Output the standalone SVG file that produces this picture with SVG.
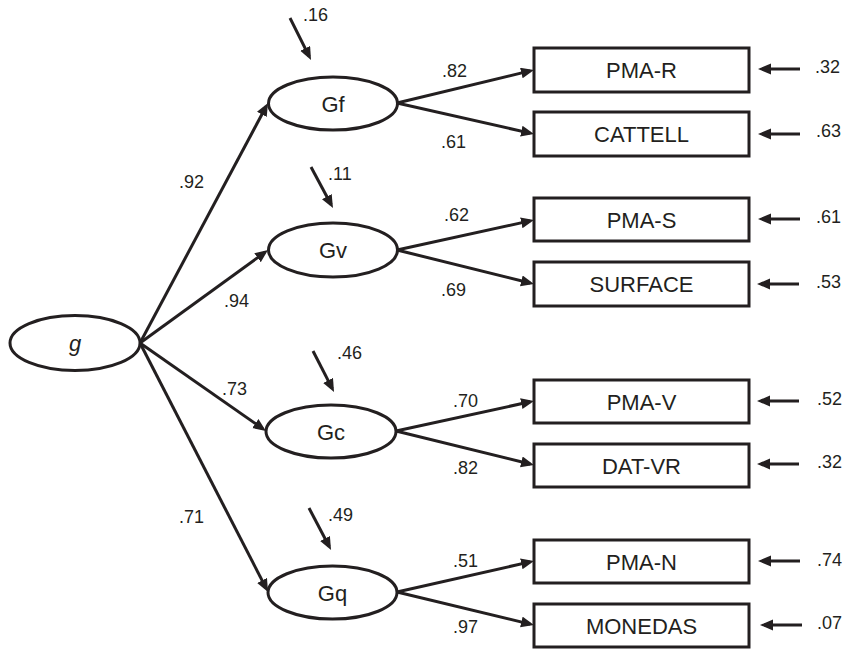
<svg xmlns="http://www.w3.org/2000/svg" width="846" height="649" viewBox="0 0 846 649">
  <style>
    .shape { fill: #ffffff; stroke: #231f20; stroke-width: 3; }
    .edge { fill: none; stroke: #231f20; stroke-width: 3; marker-end: url(#head); }
    .name { font-family: "Liberation Sans", Arial, sans-serif; font-size: 22px; fill: #231f20; text-anchor: middle; }
    .coef { font-family: "Liberation Sans", Arial, sans-serif; font-size: 18px; fill: #231f20; }
  </style>
  <defs>
    <marker id="head" markerUnits="userSpaceOnUse" markerWidth="15" markerHeight="13" refX="9" refY="5.5" orient="auto">
      <path d="M0,0 L13,5.5 L0,11 Z" fill="#231f20"/>
    </marker>
  </defs>
  <rect width="846" height="649" fill="#ffffff"/>

  <!-- connectors -->
  <g id="connectors">
    <!-- general factor to group factors -->
    <line class="edge" x1="140" y1="343" x2="266.1" y2="106.5"/>
    <line class="edge" x1="140" y1="343" x2="264.8" y2="252.4"/>
    <line class="edge" x1="140" y1="343" x2="262.7" y2="428.7"/>
    <line class="edge" x1="140" y1="343" x2="266.2" y2="588.4"/>
    <!-- group factors to tests -->
    <line class="edge" x1="397" y1="103" x2="530.1" y2="70.9"/>
    <line class="edge" x1="397" y1="103" x2="530.1" y2="133.1"/>
    <line class="edge" x1="397" y1="250" x2="530.1" y2="220.9"/>
    <line class="edge" x1="397" y1="250" x2="530.1" y2="283"/>
    <line class="edge" x1="396" y1="431" x2="530.1" y2="401.8"/>
    <line class="edge" x1="396" y1="431" x2="530.1" y2="464"/>
    <line class="edge" x1="397" y1="592" x2="530.1" y2="561.9"/>
    <line class="edge" x1="397" y1="592" x2="530.1" y2="624.1"/>
    <!-- disturbances on group factors -->
    <line class="edge" x1="290" y1="18" x2="309.2" y2="56.4"/>
    <line class="edge" x1="311" y1="167" x2="331.1" y2="204.5"/>
    <line class="edge" x1="313" y1="351" x2="332.2" y2="388.4"/>
    <line class="edge" x1="309" y1="508" x2="329.2" y2="546.5"/>
    <!-- test error terms -->
    <line class="edge" x1="800" y1="69" x2="762" y2="69"/>
    <line class="edge" x1="800" y1="134" x2="762" y2="134"/>
    <line class="edge" x1="800" y1="219" x2="762" y2="219"/>
    <line class="edge" x1="799" y1="284" x2="761" y2="284"/>
    <line class="edge" x1="799" y1="401" x2="761" y2="401"/>
    <line class="edge" x1="799" y1="464" x2="761" y2="464"/>
    <line class="edge" x1="800" y1="561" x2="762" y2="561"/>
    <line class="edge" x1="802" y1="625" x2="764" y2="625"/>
  </g>

  <!-- latent factors -->
  <g id="g">
    <ellipse class="shape" cx="75" cy="343" rx="65" ry="27.5"/>
    <text class="name" x="75" y="351" font-style="italic">g</text>
  </g>
  <g id="Gf">
    <ellipse class="shape" cx="333" cy="103.5" rx="64.5" ry="26.5"/>
    <text class="name" x="333" y="111.5">Gf</text>
  </g>
  <g id="Gv">
    <ellipse class="shape" cx="333" cy="250" rx="64.5" ry="27"/>
    <text class="name" x="333" y="258">Gv</text>
  </g>
  <g id="Gc">
    <ellipse class="shape" cx="331" cy="431.5" rx="65" ry="26.5"/>
    <text class="name" x="331" y="439.5">Gc</text>
  </g>
  <g id="Gq">
    <ellipse class="shape" cx="332.5" cy="592.5" rx="64.5" ry="26.5"/>
    <text class="name" x="332.5" y="600.5">Gq</text>
  </g>

  <!-- observed tests -->
  <g id="PMA-R">
    <rect class="shape" x="534" y="48" width="215" height="44"/>
    <text class="name" x="641.5" y="78">PMA-R</text>
  </g>
  <g id="CATTELL">
    <rect class="shape" x="534" y="112" width="215" height="44"/>
    <text class="name" x="641.5" y="142">CATTELL</text>
  </g>
  <g id="PMA-S">
    <rect class="shape" x="534" y="198" width="215" height="43"/>
    <text class="name" x="641.5" y="227.5">PMA-S</text>
  </g>
  <g id="SURFACE">
    <rect class="shape" x="534" y="262" width="215" height="44"/>
    <text class="name" x="641.5" y="292">SURFACE</text>
  </g>
  <g id="PMA-V">
    <rect class="shape" x="534" y="380" width="215" height="43"/>
    <text class="name" x="641.5" y="409.5">PMA-V</text>
  </g>
  <g id="DAT-VR">
    <rect class="shape" x="534" y="444" width="215" height="43"/>
    <text class="name" x="641.5" y="473.5">DAT-VR</text>
  </g>
  <g id="PMA-N">
    <rect class="shape" x="534" y="540" width="215" height="43"/>
    <text class="name" x="641.5" y="569.5">PMA-N</text>
  </g>
  <g id="MONEDAS">
    <rect class="shape" x="534" y="604" width="215" height="43"/>
    <text class="name" x="641.5" y="633.5">MONEDAS</text>
  </g>

  <!-- coefficients -->
  <g id="coefficients">
    <text class="coef" x="303" y="21">.16</text>
    <text class="coef" x="328" y="180">.11</text>
    <text class="coef" x="337" y="359">.46</text>
    <text class="coef" x="328" y="521">.49</text>

    <text class="coef" x="179" y="188">.92</text>
    <text class="coef" x="224" y="307">.94</text>
    <text class="coef" x="222" y="395">.73</text>
    <text class="coef" x="179" y="523">.71</text>

    <text class="coef" x="442" y="77">.82</text>
    <text class="coef" x="441" y="148">.61</text>
    <text class="coef" x="444" y="221">.62</text>
    <text class="coef" x="441" y="296">.69</text>
    <text class="coef" x="453" y="407">.70</text>
    <text class="coef" x="453" y="474">.82</text>
    <text class="coef" x="453" y="567">.51</text>
    <text class="coef" x="453" y="633">.97</text>

    <text class="coef" x="815" y="73">.32</text>
    <text class="coef" x="816" y="137">.63</text>
    <text class="coef" x="816" y="223">.61</text>
    <text class="coef" x="816" y="288">.53</text>
    <text class="coef" x="817" y="405">.52</text>
    <text class="coef" x="817" y="468">.32</text>
    <text class="coef" x="817" y="566">.74</text>
    <text class="coef" x="817" y="629">.07</text>
  </g>
</svg>
